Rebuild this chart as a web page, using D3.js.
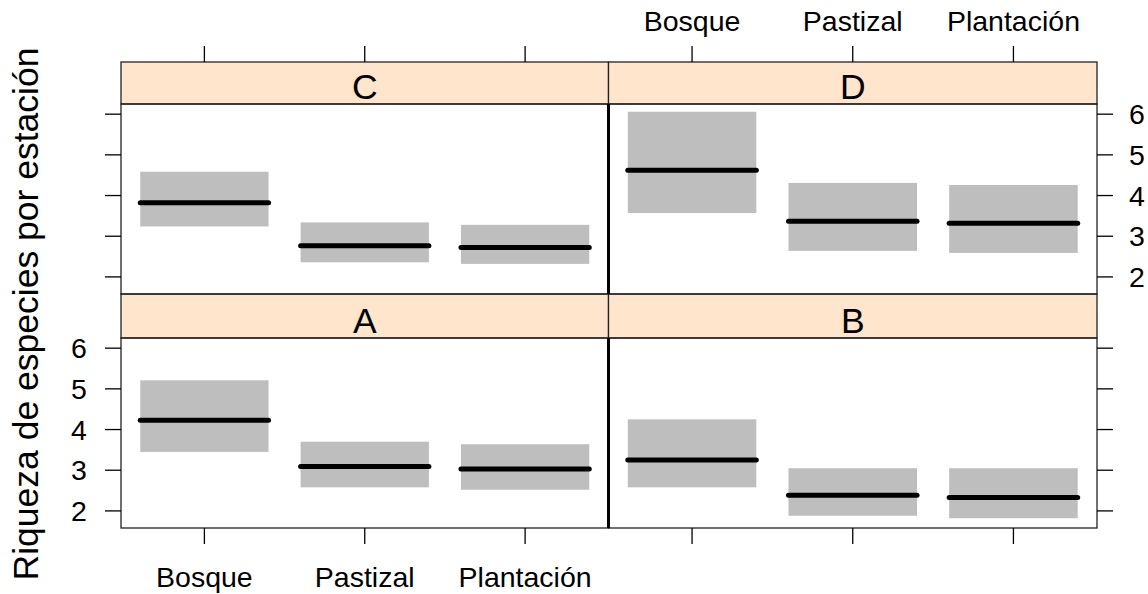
<!DOCTYPE html>
<html>
<head>
<meta charset="utf-8">
<script src="https://cdn.jsdelivr.net/npm/d3@7"></script>
<style>
  html, body { margin: 0; padding: 0; background: #ffffff; }
  svg { display: block; font-family: "Liberation Sans", Arial, sans-serif; }
</style>
</head>
<body>
<svg id="chart" width="1148" height="594"></svg>
<script>
// Habitat categories along the x axis
const categories = ["Bosque", "Pastizal", "Plantación"];
// Panel order as laid out: bottom row A, B; top row C, D
const panelNames = ["A", "B", "C", "D"];
const yTicks = [2, 3, 4, 5, 6];

// Fitted species richness per station and confidence limits, per panel
const fitA = [4.23, 3.09, 3.03];
const lowA = [3.45, 2.58, 2.52];
const uppA = [5.21, 3.70, 3.64];

const fitB = [3.25, 2.385, 2.33];
const lowB = [2.58, 1.88, 1.82];
const uppB = [4.25, 3.05, 3.05];

const fitC = [3.82, 2.765, 2.72];
const lowC = [3.24, 2.36, 2.32];
const uppC = [4.585, 3.34, 3.28];

const fitD = [4.62, 3.37, 3.32];
const lowD = [3.57, 2.64, 2.59];
const uppD = [6.06, 4.31, 4.26];

const fits = [fitA, fitB, fitC, fitD];
const lows = [lowA, lowB, lowC, lowD];
const upps = [uppA, uppB, uppC, uppD];

const svg = d3.select("#chart");

// Layout of the 2x2 lattice
const colX = [[121, 608.5], [608.5, 1097]];
const rowY = [
  { strip: [62, 104], panel: [104, 294] },   // top row
  { strip: [294, 338], panel: [338, 528] }   // bottom row
];
const stripFill = "#ffe5cc";
const bandFill = "#bebebe";
const axisFont = 28.5;
const stripFont = 35.5;
const tickLen = 16;

// panel index -> [column, row]
const panelPos = { A: [0, 1], B: [1, 1], C: [0, 0], D: [1, 0] };

const xScales = colX.map(r => d3.scaleLinear().domain([0.48, 3.52]).range(r));
const yScales = rowY.map(r => d3.scaleLinear().domain([1.58, 6.25]).range([r.panel[1], r.panel[0]]));

panelNames.forEach((name, i) => {
  const [c, r] = panelPos[name];
  const x = xScales[c], y = yScales[r];
  const g = svg.append("g");

  // strip
  g.append("rect")
    .attr("x", colX[c][0]).attr("y", rowY[r].strip[0])
    .attr("width", colX[c][1] - colX[c][0])
    .attr("height", rowY[r].strip[1] - rowY[r].strip[0])
    .attr("fill", stripFill).attr("stroke", "#222").attr("stroke-width", 1.3);
  g.append("text")
    .attr("x", (colX[c][0] + colX[c][1]) / 2)
    .attr("y", rowY[r].strip[1] - 5)
    .attr("text-anchor", "middle")
    .attr("font-size", stripFont)
    .attr("fill", "#000")
    .text(name);

  // confidence bands
  g.selectAll("rect.band").data(categories).join("rect")
    .attr("class", "band")
    .attr("x", (d, k) => x(k + 1 - 0.4))
    .attr("width", (d, k) => x(k + 1 + 0.4) - x(k + 1 - 0.4))
    .attr("y", (d, k) => y(upps[i][k]))
    .attr("height", (d, k) => y(lows[i][k]) - y(upps[i][k]))
    .attr("fill", bandFill);

  // fitted values
  g.selectAll("line.fit").data(categories).join("line")
    .attr("class", "fit")
    .attr("x1", (d, k) => x(k + 1 - 0.4))
    .attr("x2", (d, k) => x(k + 1 + 0.4))
    .attr("y1", (d, k) => y(fits[i][k]))
    .attr("y2", (d, k) => y(fits[i][k]))
    .attr("stroke", "#000").attr("stroke-width", 5)
    .attr("stroke-linecap", "round");

  // panel frame
  g.append("rect")
    .attr("x", colX[c][0]).attr("y", rowY[r].panel[0])
    .attr("width", colX[c][1] - colX[c][0])
    .attr("height", rowY[r].panel[1] - rowY[r].panel[0])
    .attr("fill", "none").attr("stroke", "#222").attr("stroke-width", 1.3);
});

// thick divider between the two columns of panels
rowY.forEach(r => {
  svg.append("line")
    .attr("x1", 608.5).attr("x2", 608.5)
    .attr("y1", r.panel[0]).attr("y2", r.panel[1])
    .attr("stroke", "#000").attr("stroke-width", 3);
});

// x axes: bottom under A (labelled) and B; top over C and D (labelled)
function xAxis(c, yEdge, dir, labelled) {
  const x = xScales[c];
  const g = svg.append("g");
  categories.forEach((cat, k) => {
    const px = x(k + 1);
    g.append("line")
      .attr("x1", px).attr("x2", px)
      .attr("y1", yEdge).attr("y2", yEdge + dir * tickLen)
      .attr("stroke", "#000").attr("stroke-width", 1.3);
    if (labelled) {
      g.append("text")
        .attr("x", px)
        .attr("y", dir > 0 ? 587 : 31)
        .attr("text-anchor", "middle")
        .attr("font-size", axisFont)
        .attr("fill", "#000")
        .text(cat);
    }
  });
}
xAxis(0, 528, 1, true);
xAxis(1, 528, 1, false);
xAxis(0, 62, -1, false);
xAxis(1, 62, -1, true);

// y axes: left of C and A (A labelled), right of D (labelled) and B
function yAxis(r, xEdge, dir, labelled) {
  const y = yScales[r];
  const g = svg.append("g");
  yTicks.forEach(t => {
    const py = y(t);
    g.append("line")
      .attr("x1", xEdge).attr("x2", xEdge + dir * tickLen)
      .attr("y1", py).attr("y2", py)
      .attr("stroke", "#000").attr("stroke-width", 1.3);
    if (labelled) {
      g.append("text")
        .attr("x", dir < 0 ? 79 : 1137)
        .attr("y", py)
        .attr("dy", "0.36em")
        .attr("text-anchor", "middle")
        .attr("font-size", axisFont)
        .attr("fill", "#000")
        .text(t);
    }
  });
}
yAxis(0, 121, -1, false);
yAxis(1, 121, -1, true);
yAxis(0, 1097, 1, true);
yAxis(1, 1097, 1, false);

// y axis title
svg.append("text")
  .attr("transform", "translate(38,314) rotate(-90)")
  .attr("text-anchor", "middle")
  .attr("font-size", stripFont)
  .attr("fill", "#000")
  .text("Riqueza de especies por estación");
</script>
</body>
</html>
